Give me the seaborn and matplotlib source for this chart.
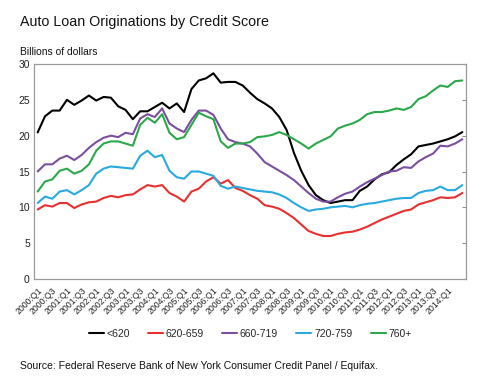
import pandas as pd
import matplotlib
matplotlib.use('Agg')
import matplotlib.pyplot as plt
import matplotlib.transforms as mtransforms
import seaborn as sns
from matplotlib.ticker import FixedLocator
from matplotlib.lines import Line2D

# quarters 2000:Q1 .. 2014:Q3
quarters = [f'{y}:Q{q}' for y in range(2000, 2015) for q in range(1, 5)][:59]

below_620 = [20.45, 22.7, 23.5, 23.5, 25.0, 24.3, 24.9, 25.6, 24.9, 25.4,
             25.3, 24.1, 23.6, 22.3, 23.4, 23.4, 24.0, 24.6, 23.8, 24.5,
             23.3, 26.5, 27.7, 28.0, 28.7, 27.4, 27.5, 27.5, 27.0, 26.0,
             25.1, 24.5, 23.8, 22.6, 20.8, 17.6, 15.1, 13.1, 11.7, 11.0,
             10.6, 10.8, 11.0, 11.0, 12.3, 12.9, 13.9, 14.6, 14.9, 15.9,
             16.7, 17.4, 18.5, 18.7, 18.9, 19.2, 19.5, 19.9, 20.5]
s620_659 = [9.7, 10.3, 10.1, 10.6, 10.6, 9.9, 10.4, 10.7, 10.8, 11.3,
            11.6, 11.4, 11.7, 11.8, 12.5, 13.1, 12.9, 13.1, 12.0, 11.5,
            10.8, 12.2, 12.6, 13.6, 14.2, 13.3, 13.8, 12.7, 12.3, 11.7,
            11.2, 10.3, 10.1, 9.8, 9.2, 8.5, 7.6, 6.7, 6.3, 6.0,
            6.0, 6.3, 6.5, 6.6, 6.9, 7.3, 7.8, 8.3, 8.7, 9.1,
            9.5, 9.7, 10.4, 10.7, 11.0, 11.4, 11.3, 11.4, 12.0]
s660_719 = [15.0, 16.0, 16.0, 16.8, 17.2, 16.6, 17.3, 18.3, 19.1, 19.7,
            20.0, 19.8, 20.4, 20.2, 22.4, 23.0, 22.6, 23.8, 21.7, 21.0,
            20.5, 22.2, 23.5, 23.5, 22.9, 21.0, 19.5, 19.1, 18.9, 18.5,
            17.5, 16.3, 15.7, 15.1, 14.5, 13.8, 12.9, 12.0, 11.2, 10.8,
            10.8, 11.4, 11.9, 12.2, 12.9, 13.5, 14.0, 14.5, 15.0, 15.1,
            15.6, 15.5, 16.4, 17.0, 17.5, 18.6, 18.5, 18.9, 19.5]
s720_759 = [10.6, 11.5, 11.2, 12.2, 12.4, 11.8, 12.4, 13.1, 14.7, 15.4,
            15.7, 15.6, 15.5, 15.4, 17.2, 17.9, 17.0, 17.3, 15.1, 14.2,
            14.0, 15.0, 15.0, 14.7, 14.4, 13.0, 12.6, 12.9, 12.7, 12.5,
            12.3, 12.2, 12.1, 11.8, 11.3, 10.6, 10.0, 9.5, 9.7, 9.8,
            10.0, 10.1, 10.2, 10.0, 10.3, 10.5, 10.6, 10.8, 11.0, 11.2,
            11.3, 11.3, 12.0, 12.3, 12.4, 12.9, 12.4, 12.4, 13.1]
s760_plus = [12.2, 13.6, 13.9, 15.1, 15.4, 14.7, 15.1, 16.0, 17.9, 18.9,
             19.2, 19.2, 18.9, 18.6, 21.5, 22.5, 21.8, 23.0, 20.4, 19.5,
             19.8, 21.5, 23.2, 22.7, 22.3, 19.2, 18.3, 18.9, 18.9, 19.1,
             19.8, 19.9, 20.1, 20.5, 20.1, 19.5, 18.9, 18.2, 18.9, 19.4,
             19.9, 21.0, 21.4, 21.7, 22.2, 23.0, 23.3, 23.3, 23.5, 23.8,
             23.6, 24.0, 25.1, 25.5, 26.3, 27.0, 26.8, 27.6, 27.7]

series_names = ['<620', '620-659', '660-719', '720-759', '760+']
colors = ['#000000', '#e8302e', '#7b4fa0', '#29a9e0', '#2aa84a']

rows = []
for name, vals in zip(series_names,
                      [below_620, s620_659, s660_719, s720_759, s760_plus]):
    for i, v in enumerate(vals):
        rows.append({'idx': i, 'quarter': quarters[i], 'value': v, 'score': name})
df = pd.DataFrame(rows)

sns.set_style('white')
plt.rcParams['font.family'] = ['Liberation Sans', 'DejaVu Sans']

fig = plt.figure(figsize=(4.87, 3.80), dpi=100)
ax = fig.add_axes([34 / 487, 1 - 279 / 380, (466 - 34) / 487, (279 - 64) / 380])

sns.lineplot(data=df, x='idx', y='value', hue='score', hue_order=series_names,
             palette=colors, linewidth=1.5, ax=ax, legend=False)

ax.set_xlim(-0.5, 58.5)
ax.set_ylim(0, 30)
ax.set_yticks([0, 5, 10, 15, 20, 25, 30])
ax.set_xlabel('')
ax.set_ylabel('')

# labels on every second quarter up to 2014:Q1, tick marks on category boundaries
ax.set_xticks(range(0, 57, 2))
ax.set_xticklabels(quarters[0:57:2], rotation=45, ha='right',
                   rotation_mode='anchor', fontsize=6.3, color='#222222')
shift = mtransforms.ScaledTranslation(5 / 100, 0, fig.dpi_scale_trans)
for lbl in ax.get_xticklabels():
    lbl.set_transform(lbl.get_transform() + shift)
ax.xaxis.set_minor_locator(FixedLocator([i + 0.5 for i in range(-1, 59)]))
ax.tick_params(axis='x', which='major', length=0, pad=5)
ax.tick_params(axis='x', which='minor', length=3, direction='in',
               color='#888888', width=0.7)
ax.tick_params(axis='y', which='major', length=3, direction='in',
               color='#888888', width=0.7, labelsize=7.5, pad=3,
               right=True, labelcolor='#222222')

for sp in ax.spines.values():
    sp.set_color('#999999')
    sp.set_linewidth(0.9)

fig.text(20 / 487, 1 - 22 / 380, 'Auto Loan Originations by Credit Score',
         fontsize=10.3, va='center', ha='left', color='#111111')
fig.text(20 / 487, 1 - 52 / 380, 'Billions of dollars',
         fontsize=7.4, va='center', ha='left', color='#111111')

handles = [Line2D([0], [0], color=c, linewidth=1.5) for c in colors]
fig.legend(handles, series_names, loc='center', ncol=5,
           bbox_to_anchor=(250 / 487, 1 - 334 / 380), frameon=False, fontsize=7.5,
           handlelength=1.45, handletextpad=0.25, columnspacing=1.75)

fig.text(20 / 487, 1 - 366 / 380,
         'Source: Federal Reserve Bank of New York Consumer Credit Panel / Equifax.',
         fontsize=7.5, va='center', ha='left', color='#111111')

fig.savefig('out.png', dpi=100)
